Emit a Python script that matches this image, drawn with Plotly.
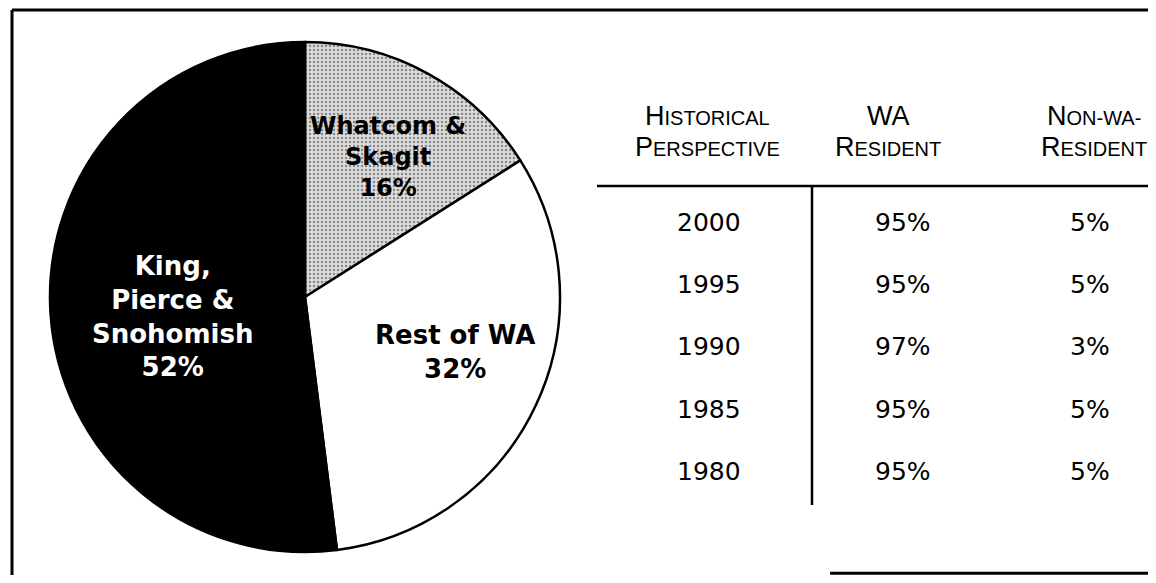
import plotly.graph_objects as go

# the page adds an 8px body margin, so the figure is drawn smaller and offset
OFF = 8
W, H = 1156 - 2 * OFF, 583 - 2 * OFF

# pie data
regions = ['Whatcom &<br>Skagit', 'Rest of WA', 'King,<br>Pierce &<br>Snohomish']
shares = [16, 32, 52]

# historical table data
years = [2000, 1995, 1990, 1985, 1980]
wa_resident = [95, 95, 97, 95, 95]
non_wa_resident = [5, 5, 3, 5, 5]
headers = [('H', 'ISTORICAL', 'P', 'ERSPECTIVE'), ('', 'WA', 'R', 'ESIDENT'), ('N', 'ON-WA-', 'R', 'ESIDENT')]


def px(x):
    return (x - OFF) / W


def py(y):
    return 1 - (y - OFF) / H


fig = go.Figure()

# pie centre ~ (305, 297), radius ~255 px
fig.add_trace(go.Pie(
    labels=regions,
    values=shares,
    sort=False,
    direction='clockwise',
    rotation=0,
    textinfo='none',
    hoverinfo='label+percent',
    showlegend=False,
    marker=dict(
        colors=['#dcdcdc', 'white', 'black'],
        line=dict(color='black', width=2.5),
        pattern=dict(shape=['.', '', ''], fgcolor='#333333', size=4, solidity=0.3, fillmode='overlay'),
    ),
    domain=dict(x=[px(305 - 255), px(305 + 255)], y=[py(297 + 255), py(297 - 255)]),
))

annotations = []


def note(x, y, text, font):
    annotations.append(dict(
        x=px(x), y=py(y), xref='paper', yref='paper', showarrow=False,
        xanchor='center', yanchor='middle', align='center',
        text=text, font=font,
    ))


# slice labels (x, y, size, colour) in pixels
label_style = [(388, 157, 24, 'black'), (455, 352, 26, 'black'), (172, 316, 26, 'white')]
for name, share, (lx, ly, size, col) in zip(regions, shares, label_style):
    note(lx, ly, f'{name}<br>{share}%',
         dict(family='DejaVu Sans', size=size, color=col, weight='bold'))

# table header (small caps look)
col_x = [707, 888, 1094]
val_x = [709, 903, 1090]
big, small = 27, 20
for (a1, b1, a2, b2), cx in zip(headers, col_x):
    for ly, (a, b) in zip([116, 147], [(a1, b1), (a2, b2)]):
        if a:
            txt = f"<span style='font-size:{big}px'>{a}</span><span style='font-size:{small}px'>{b}</span>"
        else:
            txt = b
        note(cx, ly, txt, dict(family='Liberation Sans', size=big, color='black'))

row_y = [222, 284, 346, 409, 471]
for yr, wa, nwa, ry in zip(years, wa_resident, non_wa_resident, row_y):
    for val, cx in zip([str(yr), f'{wa}%', f'{nwa}%'], val_x):
        note(cx, ry, val, dict(family='DejaVu Sans', size=25, color='black'))

line = dict(color='black', width=3)
shapes = [
    # frame
    dict(type='line', xref='paper', yref='paper', x0=px(12), x1=1, y0=py(10), y1=py(10), line=line),
    dict(type='line', xref='paper', yref='paper', x0=px(12), x1=px(12), y0=py(10), y1=0, line=line),
    dict(type='line', xref='paper', yref='paper', x0=px(830), x1=1, y0=0.003, y1=0.003, line=line),
    # table rules
    dict(type='line', xref='paper', yref='paper', x0=px(597), x1=1, y0=py(186), y1=py(186), line=dict(color='black', width=2.5)),
    dict(type='line', xref='paper', yref='paper', x0=px(812), x1=px(812), y0=py(186), y1=py(505), line=dict(color='black', width=2.5)),
]

fig.update_layout(
    width=W, height=H,
    margin=dict(l=0, r=0, t=0, b=0),
    paper_bgcolor='white',
    plot_bgcolor='white',
    annotations=annotations,
    shapes=shapes,
)

fig.write_html("out.html")
